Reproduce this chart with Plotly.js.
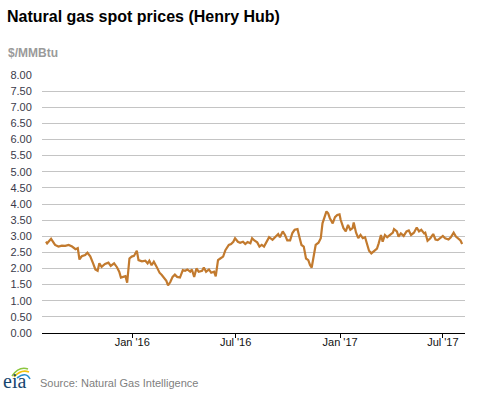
<!DOCTYPE html>
<html>
<head>
<meta charset="utf-8">
<script src="https://cdn.plot.ly/plotly-3.0.1.min.js"></script>
<style>html,body{margin:0;padding:0;background:#fff;}#chart{width:477px;height:393px;}</style>
</head>
<body>
<div id="chart"></div>
<script>
// Henry Hub spot price, $/MMBtu
const dates = [
"2015-08-02","2015-08-04","2015-08-11","2015-08-18","2015-08-24","2015-08-30","2015-09-05","2015-09-11","2015-09-17","2015-09-23",
"2015-09-27","2015-09-30","2015-10-04","2015-10-10","2015-10-14","2015-10-19","2015-10-24","2015-10-28","2015-11-01","2015-11-04",
"2015-11-08","2015-11-14","2015-11-20","2015-11-24","2015-11-30","2015-12-05","2015-12-09","2015-12-12","2015-12-16","2015-12-20",
"2015-12-23","2015-12-27","2015-12-31","2016-01-04","2016-01-09","2016-01-12","2016-01-18","2016-01-24","2016-01-28","2016-01-31",
"2016-02-04","2016-02-08","2016-02-13","2016-02-18","2016-02-22","2016-02-26","2016-03-01","2016-03-04","2016-03-08","2016-03-12",
"2016-03-16","2016-03-20","2016-03-25","2016-03-30","2016-04-03","2016-04-07","2016-04-12","2016-04-15","2016-04-19","2016-04-23",
"2016-04-27","2016-05-03","2016-05-06","2016-05-10","2016-05-15","2016-05-19","2016-05-24","2016-05-27","2016-05-31","2016-06-04",
"2016-06-09","2016-06-13","2016-06-19","2016-06-23","2016-06-27","2016-06-30","2016-07-05","2016-07-09","2016-07-14","2016-07-18",
"2016-07-22","2016-07-27","2016-07-30","2016-08-03","2016-08-08","2016-08-12","2016-08-16","2016-08-20","2016-08-25","2016-08-29",
"2016-09-04","2016-09-10","2016-09-14","2016-09-17","2016-09-22","2016-09-26","2016-09-30","2016-10-05","2016-10-09","2016-10-13",
"2016-10-18","2016-10-21","2016-10-25","2016-10-29","2016-11-02","2016-11-06","2016-11-09","2016-11-12","2016-11-16","2016-11-19",
"2016-11-24","2016-11-28","2016-12-01","2016-12-05","2016-12-08","2016-12-11","2016-12-14","2016-12-19","2016-12-23","2016-12-27",
"2016-12-31","2017-01-02","2017-01-07","2017-01-11","2017-01-15","2017-01-19","2017-01-23","2017-01-25","2017-01-29","2017-02-02",
"2017-02-06","2017-02-10","2017-02-14","2017-02-18","2017-02-21","2017-02-25","2017-03-02","2017-03-07","2017-03-10","2017-03-14",
"2017-03-17","2017-03-21","2017-03-25","2017-03-30","2017-04-04","2017-04-06","2017-04-11","2017-04-14","2017-04-18","2017-04-23",
"2017-04-28","2017-05-02","2017-05-06","2017-05-11","2017-05-16","2017-05-20","2017-05-24","2017-05-29","2017-05-31","2017-06-04",
"2017-06-09","2017-06-14","2017-06-18","2017-06-22","2017-06-27","2017-07-01","2017-07-05","2017-07-11","2017-07-15","2017-07-20",
"2017-07-24","2017-07-28","2017-08-01","2017-08-04"
];
const prices = [
2.83,2.78,2.92,2.73,2.68,2.71,2.70,2.73,2.68,2.60,
2.63,2.28,2.38,2.42,2.49,2.38,2.16,1.97,1.93,2.16,
2.05,2.14,2.18,2.08,2.16,2.04,1.90,1.72,1.74,1.76,
1.56,2.31,2.37,2.39,2.55,2.26,2.22,2.24,2.16,2.24,
2.10,2.21,2.05,1.87,1.80,1.69,1.62,1.48,1.58,1.74,
1.81,1.74,1.72,1.95,1.93,1.97,1.90,1.97,1.74,2.00,
1.90,1.93,2.03,1.90,1.97,1.87,1.90,1.76,2.26,2.31,
2.37,2.57,2.73,2.76,2.83,2.94,2.83,2.80,2.83,2.76,
2.82,2.78,2.94,2.87,2.81,2.68,2.73,2.68,2.83,2.97,
2.89,3.00,3.07,2.97,3.15,3.04,2.87,2.87,3.10,3.20,
3.22,3.00,2.73,2.68,2.31,2.26,2.11,2.03,2.52,2.73,
2.80,2.94,3.40,3.63,3.77,3.71,3.56,3.40,3.59,3.66,
3.68,3.51,3.25,3.15,3.35,3.20,3.25,3.43,3.12,2.94,
3.04,2.94,2.97,2.73,2.55,2.47,2.55,2.62,2.78,3.04,
2.83,3.04,2.97,3.04,3.11,3.22,3.15,2.99,3.09,3.01,
3.15,3.18,3.04,3.11,3.27,3.15,3.20,3.09,3.11,2.86,
2.94,3.07,2.90,2.88,2.94,3.01,2.94,2.90,2.97,3.11,
2.99,2.94,2.87,2.76
];
const xTickVals = ["2016-01-01","2016-07-01","2017-01-01","2017-07-01"];
const xTickText = ["Jan '16","Jul '16","Jan '17","Jul '17"];

// helpers to convert page pixels into paper coordinates (plot area 42..465 x 75..333)
const PL = 42, PR = 465, PT = 75, PB = 333;
const px = v => (v - PL) / (PR - PL);
const py = v => (PB - v) / (PB - PT);
function arc(x0,y0,cx,cy,x1,y1){
  return `M ${px(x0)},${py(y0)} Q ${px(cx)},${py(cy)} ${px(x1)},${py(y1)}`;
}

const trace = {
  x: dates, y: prices, type: 'scatter', mode: 'lines',
  line: {color: '#c27a2e', width: 2.2}, hoverinfo: 'skip'
};

const layout = {
  width: 477, height: 393,
  margin: {l: PL, r: 477 - PR, t: PT, b: 393 - PB, pad: 0},
  paper_bgcolor: '#fff', plot_bgcolor: '#fff',
  showlegend: false,
  font: {family: 'Liberation Sans, Arial, sans-serif', size: 11, color: '#333'},
  title: {
    text: '<b>Natural gas spot prices (Henry Hub)</b>',
    font: {family: 'Liberation Sans, Arial, sans-serif', size: 16, color: '#000'},
    xref: 'container', yref: 'container', x: 7/477, xanchor: 'left',
    y: 1 - 16/393, yanchor: 'middle'
  },
  xaxis: {
    type: 'date', range: ['2015-07-26', '2017-08-09'],
    tickvals: xTickVals, ticktext: xTickText,
    ticks: 'outside', ticklen: 4, tickcolor: '#000', tickwidth: 1,
    ticklabelstandoff: -5,
    showgrid: false, showline: true, linecolor: '#000', linewidth: 1,
    zeroline: false,
    tickfont: {family: 'Liberation Sans, Arial, sans-serif', size: 11, color: '#111'}
  },
  yaxis: {
    range: [0, 8], dtick: 0.5, tick0: 0, tickformat: '.2f',
    ticks: 'outside', ticklen: 7, tickcolor: 'rgba(0,0,0,0)',
    showgrid: true, gridcolor: '#c4c4c4', gridwidth: 1,
    zeroline: true, zerolinecolor: '#000', zerolinewidth: 1,
    showline: false, fixedrange: true,
    tickfont: {family: 'Liberation Sans, Arial, sans-serif', size: 11, color: '#3a3a4a'}
  },
  annotations: [
    {text: '<b>$/MMBtu</b>', xref: 'paper', yref: 'paper', x: px(6), y: py(53),
     xanchor: 'left', yanchor: 'middle', showarrow: false,
     font: {family: 'Liberation Sans, Arial, sans-serif', size: 12, color: '#9a9a9a'}},
    {text: 'Source: Natural Gas Intelligence', xref: 'paper', yref: 'paper', x: px(38), y: py(383),
     xanchor: 'left', yanchor: 'middle', showarrow: false,
     font: {family: 'Liberation Sans, Arial, sans-serif', size: 11, color: '#808080'}},
    {text: 'eia', xref: 'paper', yref: 'paper', x: px(2), y: py(381),
     xanchor: 'left', yanchor: 'middle', showarrow: false, borderpad: 0,
     font: {family: 'Liberation Serif, DejaVu Serif, serif', size: 20, color: '#17466f'}}
  ],
  shapes: [
    {type: 'path', xref: 'paper', yref: 'paper', path: arc(12,376, 19,366, 28,369),
     line: {color: '#8cc63f', width: 1.6}},
    {type: 'path', xref: 'paper', yref: 'paper', path: arc(14,377, 21,369, 29,372),
     line: {color: '#f1c40f', width: 1.6}},
    {type: 'path', xref: 'paper', yref: 'paper', path: arc(17,378, 26,371, 30,379),
     line: {color: '#2a8fd0', width: 1.6}}
  ]
};

Plotly.newPlot('chart', [trace], layout, {staticPlot: true, displayModeBar: false});
</script>
</body>
</html>
